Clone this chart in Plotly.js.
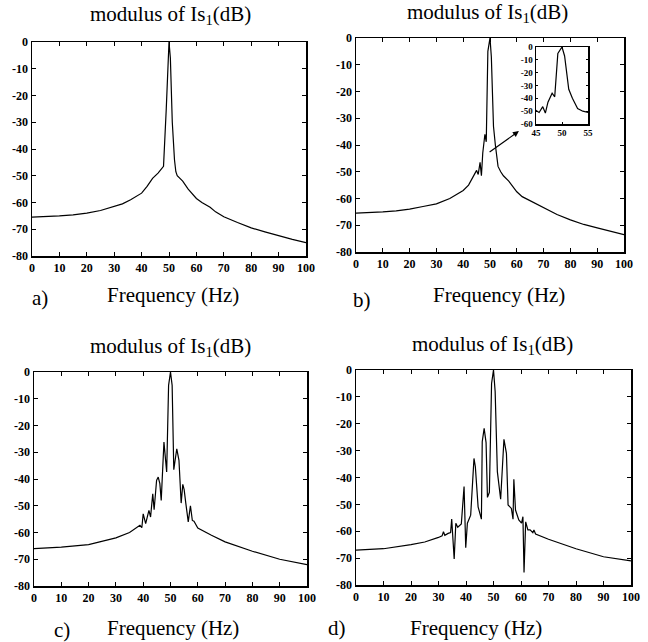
<!DOCTYPE html>
<html>
<head>
<meta charset="utf-8">
<script src="https://cdn.plot.ly/plotly-3.0.1.min.js"></script>
<style>html,body{margin:0;padding:0;background:#fff;}#chart{width:648px;height:642px;}</style>
</head>
<body>
<div id="chart"></div>
<script>
// ---- data ----
const aX = [0,5,10,15,20,25,30,33,36,40,42,44,46,48,49,49.5,50,50.5,51.2,52,52.5,53,55,57,60,62,65,67,70,75,80,85,90,95,100];
const aY = [-65.5,-65.3,-65,-64.6,-64,-63,-61.5,-60.5,-59,-56.5,-54,-51,-49,-46.5,-25,-8,0,-6,-30,-44,-48.5,-50,-52,-55,-58.5,-60,-61.8,-63.5,-65.3,-67.5,-69.5,-71,-72.5,-73.8,-75];

const bX = [0,5,10,15,20,25,30,35,38,40,42,44,45,45.6,46.3,46.8,47.3,48.1,48.6,49.2,50,50.5,51.3,52,53,54,55,57,60,62,65,70,75,80,85,90,95,100];
const bY = [-65.5,-65.3,-65,-64.6,-64,-63,-62,-60,-58.3,-57,-55,-51.5,-49.5,-51,-46.5,-51.5,-43,-36,-38.8,-5,0,-7,-33,-40,-48,-50,-51.5,-53.5,-57.5,-59.3,-60.8,-63.5,-66,-68,-69.7,-71,-72.3,-73.5];

const cX = [0,10,20,30,35,38,38.8,39.5,40,40.9,42.1,42.7,43.5,44,44.9,45.5,46.1,46.6,47.6,48.6,49.3,50,50.6,51.2,52.3,53.1,53.9,54.5,55,55.6,56.5,57.3,58,58.6,60,65,70,80,90,100];
const cY = [-66,-65.5,-64.5,-62,-60,-57.6,-57.3,-58.2,-53,-56.7,-51.7,-54.2,-45.5,-51.5,-40.5,-39.3,-41.7,-48,-26.2,-37.4,-5,0,-5,-36.5,-28.7,-33,-49,-42,-44,-49,-56,-50,-55.5,-55.8,-58.3,-61,-63.5,-67,-70,-72];

const dX = [0,10,20,25,30,31.3,31.8,32.3,33.5,34.4,34.8,35.7,36.3,37,38.3,39.3,39.9,40.5,41.7,42.9,43.4,44.4,45.6,45.9,46.6,47.3,47.8,48.5,49.3,50,50.6,51.4,52.6,53.8,54.7,55.3,56.5,57.1,57.4,58,59.2,60.2,60.7,61.1,61.7,62.5,63.3,64.3,64.7,65.3,70,80,90,100];
const dY = [-67,-66.5,-65,-64,-62.3,-61.7,-60.2,-61.5,-60.8,-60.5,-55.5,-70.3,-57,-58.5,-57.3,-43.4,-66.1,-57,-54,-32.9,-36,-50.9,-55.5,-26.7,-21.7,-27,-47.4,-45.5,-5,0,-8,-37.8,-48.1,-25.8,-31,-50.2,-51.5,-55.5,-40.7,-52.1,-55.8,-57,-54.6,-75.3,-56.5,-59.5,-59.5,-60.5,-59.5,-61,-63,-66.5,-69.5,-71];

const xTicks = [0,10,20,30,40,50,60,70,80,90,100];
const yTicks = [0,-10,-20,-30,-40,-50,-60,-70,-80];
const insetXTicks = [45,50,55];
const insetYTicks = [0,-10,-20,-30,-40,-50,-60];

const titleText = 'modulus of Is<sub>1</sub>(dB)';
const xTitleText = 'Frequency (Hz)';
const panelLabels = ['a)','b)','c)','d)'];

// ---- layout helpers ----
const W = 648, H = 642;
const px = v => v / W;
const py = v => 1 - v / H;
const serif = 'Liberation Serif';

function tfont(fs) { return {family:serif, size:fs, color:'#000'}; }
function axisBase(ticks, range, fs) {
  return {range:range, tickvals:ticks,
    ticktext: ticks.map(t => '<b>' + t + '</b>'),
    ticks:'inside', ticklen:4, tickcolor:'#000', tickwidth:1,
    showline:true, linecolor:'#000', linewidth:1.5, mirror:'ticks',
    showgrid:false, zeroline:false, fixedrange:true, tickfont:tfont(fs)};
}
function xax(l, r, anchor, ticks, range, fs) {
  return Object.assign(axisBase(ticks, range, fs), {domain:[px(l), px(r)], anchor:anchor});
}
function yax(top, bot, anchor, ticks, range, fs) {
  return Object.assign(axisBase(ticks, range, fs), {domain:[py(bot), py(top)], anchor:anchor});
}

const line = {color:'#000', width:1.2};
const traces = [
  {x:aX, y:aY, xaxis:'x', yaxis:'y', mode:'lines', line:line},
  {x:bX, y:bY, xaxis:'x2', yaxis:'y2', mode:'lines', line:line},
  {x:cX, y:cY, xaxis:'x3', yaxis:'y3', mode:'lines', line:line},
  {x:dX, y:dY, xaxis:'x4', yaxis:'y4', mode:'lines', line:line},
  {x:bX, y:bY, xaxis:'x5', yaxis:'y5', mode:'lines', line:line}
];

const boxes = [
  {l:32, r:306, t:42, b:256},
  {l:356, r:624, t:38, b:252},
  {l:34, r:307, t:372, b:586},
  {l:356, r:631, t:370, b:585}
];
const titlePos = [[170,15],[487,13],[170,347],[492,345]];
const xTitlePos = [[173,295],[499,295],[173,628],[476,628]];
const labelPos = [[40,298],[362,300],[62,630],[337,628]];

const layout = {
  width:W, height:H, margin:{l:0,r:0,t:0,b:0},
  paper_bgcolor:'#fff', plot_bgcolor:'#fff', showlegend:false,
  font:{family:serif, color:'#000'},
  xaxis: xax(boxes[0].l, boxes[0].r, 'y', xTicks, [0,100], 12),
  yaxis: yax(boxes[0].t, boxes[0].b, 'x', yTicks, [-80,0], 12),
  xaxis2: xax(boxes[1].l, boxes[1].r, 'y2', xTicks, [0,100], 12),
  yaxis2: yax(boxes[1].t, boxes[1].b, 'x2', yTicks, [-80,0], 12),
  xaxis3: xax(boxes[2].l, boxes[2].r, 'y3', xTicks, [0,100], 12),
  yaxis3: yax(boxes[2].t, boxes[2].b, 'x3', yTicks, [-80,0], 12),
  xaxis4: xax(boxes[3].l, boxes[3].r, 'y4', xTicks, [0,100], 12),
  yaxis4: yax(boxes[3].t, boxes[3].b, 'x4', yTicks, [-80,0], 12),
  xaxis5: Object.assign(xax(536, 588, 'y5', insetXTicks, [45,55], 9), {ticklen:2}),
  yaxis5: Object.assign(yax(47, 124, 'x5', insetYTicks, [-60,0], 9), {ticklen:2}),
  annotations: [],
};

for (let i = 0; i < 4; i++) {
  layout.annotations.push({xref:'paper', yref:'paper', x:px(titlePos[i][0]), y:py(titlePos[i][1]),
    text:titleText, showarrow:false, xanchor:'center', yanchor:'middle',
    font:{family:serif, size:21, color:'#000'}});
  layout.annotations.push({xref:'paper', yref:'paper', x:px(xTitlePos[i][0]), y:py(xTitlePos[i][1]),
    text:xTitleText, showarrow:false, xanchor:'center', yanchor:'middle',
    font:{family:serif, size:21, color:'#000'}});
  layout.annotations.push({xref:'paper', yref:'paper', x:px(labelPos[i][0]), y:py(labelPos[i][1]),
    text:panelLabels[i], showarrow:false, xanchor:'center', yanchor:'middle',
    font:{family:serif, size:21, color:'#000'}});
}
// arrow pointing to the inset
layout.annotations.push({xref:'x2', yref:'y2', x:60.8, y:-34.8, axref:'x2', ayref:'y2', ax:49.3, ay:-43,
  text:'', showarrow:true, arrowhead:2, arrowsize:1, arrowwidth:1.2, arrowcolor:'#000'});

Plotly.newPlot('chart', traces, layout, {displayModeBar:false, staticPlot:true});
</script>
</body>
</html>
